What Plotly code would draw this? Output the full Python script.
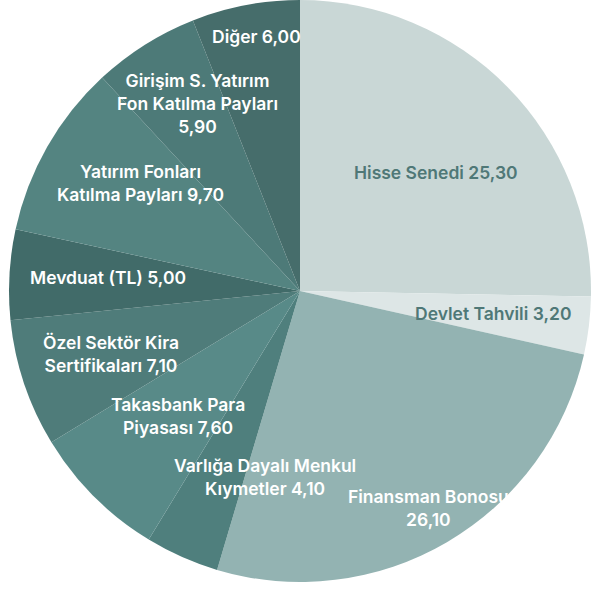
import plotly.graph_objects as go

labels = ["Hisse Senedi", "Devlet Tahvili", "Finansman Bonosu",
          "Varlığa Dayalı Menkul Kıymetler", "Takasbank Para Piyasası",
          "Özel Sektör Kira Sertifikaları", "Mevduat (TL)",
          "Yatırım Fonları Katılma Payları", "Girişim S. Yatırım Fon Katılma Payları",
          "Diğer"]
values = [25.30, 3.20, 26.10, 4.10, 7.60, 7.10, 5.00, 9.70, 5.90, 6.00]
label_texts = ["Hisse Senedi 25,30", "Devlet Tahvili 3,20", "Finansman Bonosu<br>26,10",
               "Varlığa Dayalı Menkul<br>Kıymetler 4,10", "Takasbank Para<br>Piyasası 7,60",
               "Özel Sektör Kira<br>Sertifikaları 7,10", "Mevduat (TL) 5,00",
               "Yatırım Fonları<br>Katılma Payları 9,70", "Girişim S. Yatırım<br>Fon Katılma Payları<br>5,90",
               "Diğer 6,00"]
colors = ["#c9d7d6", "#dde6e6", "#93b3b2", "#4f7f7d", "#588a88",
          "#4f7c7a", "#416b69", "#548481", "#4d7a78", "#466d6b"]
text_colors = ["#4f7877", "#4f7877", "white", "white", "white",
               "white", "white", "white", "white", "white"]
# label anchor positions in pixels (x, y) within 602x592 canvas
label_px = [(436, 172), (493, 313), (429, 508), (265, 477), (178, 416),
            (111, 354), (108, 278), (140, 183), (197, 104), (256, 36)]

W, H = 602, 592
fig = go.Figure(go.Pie(
    labels=labels, values=values, sort=False, direction="clockwise", rotation=0,
    marker=dict(colors=colors, line=dict(width=0)),
    textinfo="none", hoverinfo="label+value", showlegend=False,
    domain=dict(x=[9 / W, 591 / W], y=[10 / H, 1.0]),
))

for t, c, (px, py) in zip(label_texts, text_colors, label_px):
    fig.add_annotation(x=px / W, y=1 - py / H, xref="paper", yref="paper",
                       text=t, showarrow=False, align="center",
                       xanchor="center", yanchor="middle",
                       font=dict(family="Inter", size=17.5, color=c, weight=600))

fig.update_layout(width=W, height=H, margin=dict(l=0, r=0, t=0, b=0),
                  paper_bgcolor="white", plot_bgcolor="white")
fig.write_html("out.html", config={"displayModeBar": False},
               post_script="document.body.style.margin='0px';")
